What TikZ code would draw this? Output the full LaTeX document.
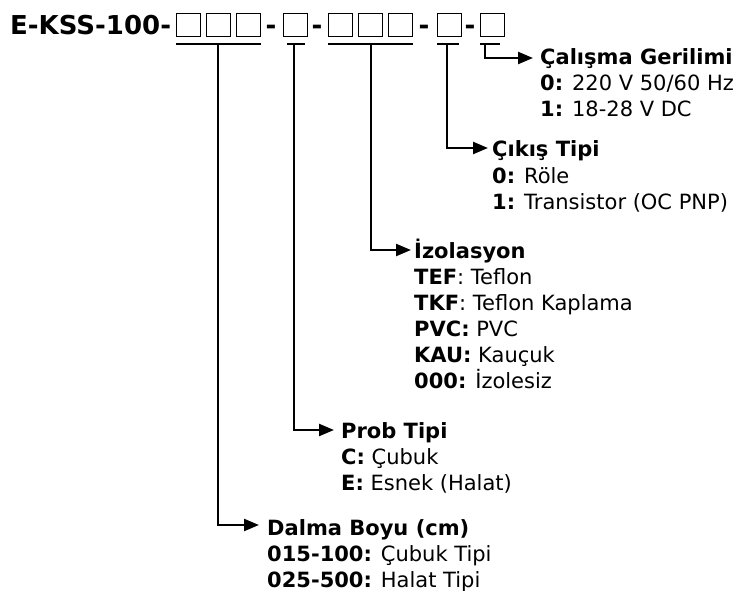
\documentclass[tikz,border=0pt]{standalone}
\usepackage{fontspec}
\setmainfont{DejaVu Sans}
\usetikzlibrary{arrows.meta}
\begin{document}
\begin{tikzpicture}[x=1pt,y=-1pt,
  bar/.style={line width=2.4pt},
  arr/.style={line width=2.4pt,-{Triangle[length=15pt,width=12pt]}},
  sq/.style={draw,line width=1.3pt,minimum width=24pt,minimum height=23pt,inner sep=0pt,anchor=north west},
  ttl/.style={font=\bfseries\fontsize{26}{31}\selectfont,inner sep=0pt},
  head/.style={font=\bfseries\fontsize{21}{25}\selectfont,anchor=base west,inner sep=0pt},
  item/.style={font=\fontsize{21}{25}\selectfont,anchor=base west,inner sep=0pt}]
\useasboundingbox (0,0) rectangle (734,591);
% title
\node[ttl,anchor=base west] (t) at (10,35) {E-KSS-100-};
\node[sq] (s1) at (176,13) {};
\node[sq] (s2) at (206,13) {};
\node[sq] (s3) at (236,13) {};
\node[ttl,anchor=base] (d1) at (271,35) {-};
\node[sq] (s4) at (283,13) {};
\node[ttl,anchor=base] (d2) at (317,35) {-};
\node[sq] (s5) at (328,13) {};
\node[sq] (s6) at (358,13) {};
\node[sq] (s7) at (388,13) {};
\node[ttl,anchor=base] (d3) at (424,35) {-};
\node[sq] (s8) at (437,13) {};
\node[ttl,anchor=base] (d4) at (470,35) {-};
\node[sq] (s9) at (480,13) {};
% bars
\draw[bar] ([yshift=-7pt]s1.south west) -- ([yshift=-7pt]s3.south east);
\draw[bar] ([xshift=4pt,yshift=-7pt]s4.south west) -- ([xshift=-3pt,yshift=-7pt]s4.south east);
\draw[bar] ([yshift=-7pt]s5.south west) -- ([yshift=-7pt]s7.south east);
\draw[bar] ([yshift=-7pt]s8.south west) -- ([xshift=-3pt,yshift=-7pt]s8.south east);
\draw[bar] ([yshift=-7pt]s9.south west) -- ([xshift=-5pt,yshift=-7pt]s9.south east);
\coordinate (b1) at (218,43);
\coordinate (b2) at (294,43);
\coordinate (b3) at (371,43);
\coordinate (b4) at (447,43);
\coordinate (b5) at (485,43);
% block 1
\node[head] (h1) at (540,65) {Çalışma Gerilimi};
\node[item] (h1a) at (540,91) {\textbf{0:} 220 V 50/60 Hz};
\node[item] (h1b) at (540,117) {\textbf{1:} 18-28 V DC};
% block 2
\node[head] (h2) at (492,157) {Çıkış Tipi};
\node[item] (h2a) at (492,183) {\textbf{0:} Röle};
\node[item] (h2b) at (492,209) {\textbf{1:} Transistor (OC PNP)};
% block 3
\node[head] (h3) at (414,258) {İzolasyon};
\node[item] (h3a) at (414,284) {\textbf{TEF}: Teflon};
\node[item] (h3b) at (414,310) {\textbf{TKF}: Teflon Kaplama};
\node[item] (h3c) at (414,336) {\textbf{PVC:} PVC};
\node[item] (h3d) at (414,362) {\textbf{KAU:} Kauçuk};
\node[item] (h3e) at (414,388) {\textbf{000:} İzolesiz};
% block 4
\node[head] (h4) at (341,438) {Prob Tipi};
\node[item] (h4a) at (341,464) {\textbf{C:} Çubuk};
\node[item] (h4b) at (341,490) {\textbf{E:} Esnek (Halat)};
% block 5
\node[head] (h5) at (267,535) {Dalma Boyu (cm)};
\node[item] (h5a) at (267,561) {\textbf{015-100:} Çubuk Tipi};
\node[item] (h5b) at (267,587) {\textbf{025-500:} Halat Tipi};
% arrow ends
\coordinate (e1) at (533,58);
\coordinate (e2) at (488,148);
\coordinate (e3) at (411,250);
\coordinate (e4) at (334,430);
\coordinate (e5) at (259,525);
\draw[arr] (b5) |- (e1);
\draw[arr] (b4) |- (e2);
\draw[arr] (b3) |- (e3);
\draw[arr] (b2) |- (e4);
\draw[arr] (b1) |- (e5);
\end{tikzpicture}
\end{document}
